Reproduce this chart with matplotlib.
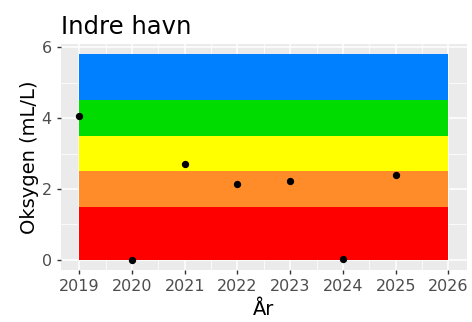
import numpy as np
import matplotlib.pyplot as plt

# data
years = [2019, 2020, 2021, 2022, 2023, 2024, 2025]
oxygen = [4.06, 0.0, 2.71, 2.14, 2.23, 0.02, 2.39]

band_lower = [0.0, 1.5, 2.5, 3.5, 4.5]
band_upper = [1.5, 2.5, 3.5, 4.5, 5.8]
band_colors = ['#FF0000', '#FF8C28', '#FFFF00', '#00DC00', '#0080FF']
x_start, x_end = 2019, 2026

fig = plt.figure(figsize=(4.72, 3.22), dpi=100)
ax = fig.add_axes([0.129, 0.161, 0.860, 0.702])
ax.set_facecolor('#EBEBEB')

# grid
for v in np.arange(2019, 2026.5, 0.5):
    ax.axvline(v, color='white', lw=1.1 if v % 1 == 0 else 0.55, zorder=0)
for v in np.arange(0, 6.5, 1):
    ax.axhline(v, color='white', lw=1.1 if v % 2 == 0 else 0.55, zorder=0)

for lo, hi, c in zip(band_lower, band_upper, band_colors):
    ax.fill_between([x_start, x_end], lo, hi, color=c, lw=0, zorder=1)

ax.scatter(years, oxygen, s=18, color='black', zorder=3)

ax.set_xlim(2019 - 0.35, 2026 + 0.35)
ax.set_ylim(-0.29, 5.8 + 0.29)
ax.set_xticks(range(2019, 2027))
ax.set_yticks([0, 2, 4, 6])
for s in ax.spines.values():
    s.set_visible(False)
ax.tick_params(colors='#333333', labelcolor='#4D4D4D', labelsize=11.5, length=3, width=1)

ax.set_xlabel('År', fontsize=14, labelpad=4)
ax.set_ylabel('Oksygen (mL/L)', fontsize=14, labelpad=2)
ax.set_title('Indre havn', fontsize=17.5, loc='left', pad=7, x=0.0)

fig.savefig('out.png', dpi=100)
